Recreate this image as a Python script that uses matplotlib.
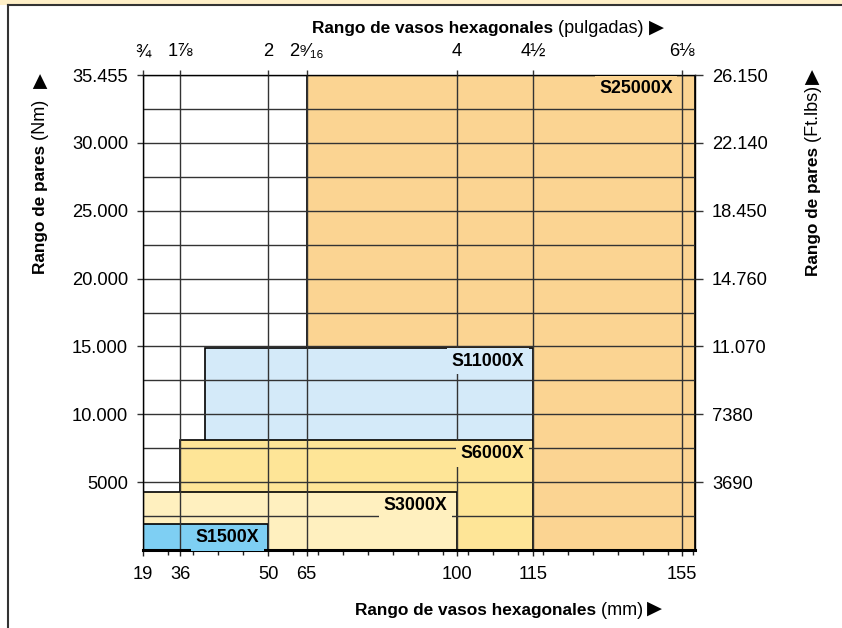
import numpy as np
import matplotlib
matplotlib.use('Agg')
import matplotlib.pyplot as plt
from matplotlib.patches import Rectangle
from matplotlib.lines import Line2D

plt.rcParams['font.family'] = ['Liberation Sans', 'DejaVu Sans']

# tool models: hex socket range (mm) and max torque (Nm)
models = ['S25000X', 'S11000X', 'S6000X', 'S3000X', 'S1500X']
mm_min = [65, 40, 36, 19, 19]
mm_max = [159, 115, 115, 100, 50]
nm_max = [35455, 14900, 8100, 4250, 1900]
colors = ['#FBD492', '#D4EAF9', '#FEE597', '#FFF0BF', '#7ECFF3']

mm_ticks = [19, 36, 50, 65, 100, 115, 155]
inch_labels = ['¾', '1⅞', '2', '2⁹⁄₁₆', '4', '4½', '6⅛']
nm_ticks = [5000, 10000, 15000, 20000, 25000, 30000, 35455]
nm_labels = ['5000', '10.000', '15.000', '20.000', '25.000', '30.000', '35.455']
ftlb_labels = ['3690', '7380', '11.070', '14.760', '18.450', '22.140', '26.150']

# the sheet spaces the axes unevenly -> piecewise linear scales
x_src = [19, 36, 50, 65, 100, 115, 155, 159]
x_dst = [0, 36.7, 125, 163.3, 313.3, 390, 538.3, 551.7]
y_src = [0, 30000, 35455]
y_dst = [0, 30000, 35000]


def piecewise(src, dst):
    src = np.asarray(src, float)
    dst = np.asarray(dst, float)

    def f(v):
        v = np.asarray(v, float)
        out = np.interp(v, src, dst)
        out = np.where(v < src[0], dst[0] + (v - src[0]), out)
        out = np.where(v > src[-1], dst[-1] + (v - src[-1]), out)
        return out
    return f


fx, ix = piecewise(x_src, x_dst), piecewise(x_dst, x_src)
fy, iy = piecewise(y_src, y_dst), piecewise(y_dst, y_src)

W, H = 842, 628
fig = plt.figure(figsize=(W / 100, H / 100), dpi=100)
ax = fig.add_axes([143.3 / W, 1 - 550 / H, 551.7 / W, 475 / H])
ax.set_xscale('function', functions=(fx, ix))
ax.set_yscale('function', functions=(fy, iy))
ax.set_xlim(19, 159)
ax.set_ylim(0, 35455)

for m, x0, x1, top, c in zip(models, mm_min, mm_max, nm_max, colors):
    ax.bar(x0, top, width=x1 - x0, align='edge', color=c,
           edgecolor='black', linewidth=1.2, zorder=1)
    ax.annotate(m, xy=(min(x1, 155), top), xytext=(-9, -5),
                textcoords='offset pixels', ha='right', va='top',
                fontsize=12.8, fontweight='bold', zorder=4,
                bbox=dict(boxstyle='square,pad=0.25', fc=c, ec='none'))

# ticks and grid
ax.set_xticks(mm_ticks)
ax.set_xticklabels([str(v) for v in mm_ticks])
ax.set_xticks(ix(np.arange(0, 552, 25)), minor=True)
ax.set_yticks(nm_ticks)
ax.set_yticklabels(nm_labels)
ax.set_yticks((np.array([0] + nm_ticks[:-1]) + np.array(nm_ticks)) / 2, minor=True)
ax.grid(axis='x', which='major', color='#333333', linewidth=1)
ax.grid(axis='y', which='both', color='#333333', linewidth=1)

ax.tick_params(axis='x', which='major', length=4.5, width=1, pad=7,
               labelsize=13.2, color='#222222')
ax.tick_params(axis='x', which='minor', length=3.5, width=1, color='#222222')
ax.tick_params(axis='y', which='major', length=4.5, width=1, pad=6.5,
               labelsize=13.2, color='#333333')
ax.tick_params(axis='y', which='minor', length=0)
ax.spines['bottom'].set_linewidth(2.2)
for s in ['left', 'top', 'right']:
    ax.spines[s].set_linewidth(1)

# right axis in ft-lbs
ax_r = ax.twinx()
ax_r.set_yscale('function', functions=(fy, iy))
ax_r.set_ylim(0, 35455)
ax_r.set_yticks(nm_ticks)
ax_r.set_yticklabels(ftlb_labels)
ax_r.tick_params(axis='y', length=5.8, width=1, pad=6.5, labelsize=13.2,
                 color='#333333')
# top axis in inches
ax_t = ax.twiny()
ax_t.set_xscale('function', functions=(fx, ix))
ax_t.set_xlim(19, 159)
ax_t.set_xticks(mm_ticks)
ax_t.set_xticklabels(inch_labels)
ax_t.tick_params(axis='x', length=3.6, width=1, pad=7, labelsize=13.2,
                 color='#333333')
for a in (ax_r, ax_t):
    for s in a.spines.values():
        s.set_visible(False)


def two_part(x, y, bold, regular, arrow_xy, rot=0):
    fig.text(x / W, 1 - y / H, bold, fontsize=12.4, fontweight='bold',
             ha='right', va='baseline', rotation=rot, rotation_mode='anchor')
    fig.text(x / W, 1 - y / H, regular, fontsize=13, ha='left',
             va='baseline', rotation=rot, rotation_mode='anchor')
    fig.text(arrow_xy[0] / W, 1 - arrow_xy[1] / H, '▶', family='DejaVu Sans',
             fontsize=14, ha='center', va='center', rotation=rot)


two_part(553, 32.7, 'Rango de vasos hexagonales', ' (pulgadas)', (656, 27))
two_part(596, 615, 'Rango de vasos hexagonales', ' (mm)', (654.5, 608))
two_part(45, 145, 'Rango de pares', ' (Nm)', (40, 81), rot=90)
two_part(818, 147, 'Rango de pares', ' (Ft.lbs)', (812, 77), rot=90)

# page frame: cream strip on top and border lines
fig.patches.append(Rectangle((0, 1 - 5 / H), 1, 5 / H, transform=fig.transFigure,
                             fc='#FFF0C8', ec='none'))
fig.add_artist(Line2D([7.5 / W, 1], [1 - 5 / H] * 2, color='#333333', lw=1.5))
fig.add_artist(Line2D([7.5 / W] * 2, [0, 1 - 5 / H], color='#333333', lw=1.5))

fig.savefig('out.png', dpi=100)
